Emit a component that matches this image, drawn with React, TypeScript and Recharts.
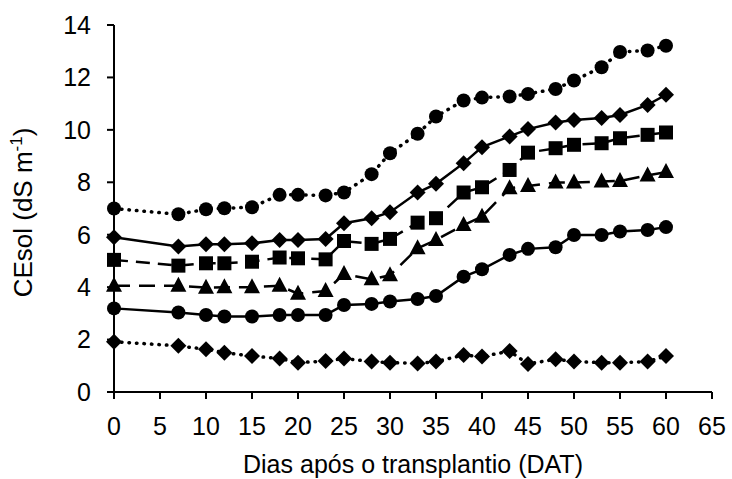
import { LineChart, Line, XAxis, YAxis, Label } from "recharts";

// Days after transplanting at which EC was sampled
const days = [0, 7, 10, 12, 15, 18, 20, 23, 25, 28, 30, 33, 35, 38, 40, 43, 45, 48, 50, 53, 55, 58, 60];

// Soil solution EC (dS m-1), one array per treatment
const circleDotted = [7.0, 6.78, 6.97, 7.01, 7.05, 7.52, 7.52, 7.5, 7.61, 8.31, 9.11, 9.85, 10.51, 11.12, 11.23, 11.27, 11.37, 11.56, 11.88, 12.39, 12.97, 13.03, 13.21];
const diamondSolid = [5.9, 5.55, 5.64, 5.64, 5.67, 5.8, 5.8, 5.84, 6.44, 6.63, 6.86, 7.61, 7.94, 8.73, 9.34, 9.75, 10.03, 10.28, 10.38, 10.45, 10.57, 10.95, 11.34];
const squareDashed = [5.04, 4.82, 4.91, 4.91, 4.97, 5.13, 5.1, 5.06, 5.76, 5.65, 5.84, 6.46, 6.63, 7.61, 7.81, 8.47, 9.13, 9.3, 9.43, 9.49, 9.68, 9.81, 9.9];
const triangleDashed = [4.05, 4.05, 3.98, 4.0, 4.0, 4.05, 3.75, 3.85, 4.5, 4.3, 4.45, 5.48, 5.8, 6.37, 6.69, 7.77, 7.86, 7.99, 7.99, 8.03, 8.05, 8.26, 8.39];
const circleSolid = [3.19, 3.03, 2.94, 2.88, 2.88, 2.94, 2.94, 2.94, 3.32, 3.36, 3.45, 3.55, 3.66, 4.4, 4.68, 5.23, 5.46, 5.52, 5.99, 5.99, 6.12, 6.18, 6.29];
const diamondDotted = [1.92, 1.76, 1.63, 1.5, 1.37, 1.28, 1.12, 1.18, 1.28, 1.16, 1.12, 1.09, 1.16, 1.41, 1.35, 1.56, 1.07, 1.25, 1.16, 1.12, 1.12, 1.16, 1.37];

const xTicks = [0, 5, 10, 15, 20, 25, 30, 35, 40, 45, 50, 55, 60, 65];
const yTicks = [0, 2, 4, 6, 8, 10, 12, 14];

const data = days.map((d, i) => ({
  dat: d,
  s1: circleDotted[i],
  s2: diamondSolid[i],
  s3: squareDashed[i],
  s4: triangleDashed[i],
  s5: circleSolid[i],
  s6: diamondDotted[i],
}));

const FONT = "'Liberation Sans', Arial, sans-serif";

const circleDot = (p: any) => (
  <circle key={`c-${p.dataKey}-${p.index}`} cx={p.cx} cy={p.cy} r={7} fill="#000" />
);

const squareDot = (p: any) => (
  <rect key={`s-${p.index}`} x={p.cx - 7} y={p.cy - 7} width={14} height={14} fill="#000" />
);

const diamondDot = (p: any) => (
  <path
    key={`d-${p.dataKey}-${p.index}`}
    d={`M${p.cx},${p.cy - 8} L${p.cx + 8},${p.cy} L${p.cx},${p.cy + 8} L${p.cx - 8},${p.cy} Z`}
    fill="#000"
  />
);

const triangleDot = (p: any) => (
  <path
    key={`t-${p.index}`}
    d={`M${p.cx},${p.cy - 9} L${p.cx + 8},${p.cy + 6} L${p.cx - 8},${p.cy + 6} Z`}
    fill="#000"
  />
);

const YTitle = (props: any) => {
  const vb = props.viewBox || { x: 0, y: 25, width: 114, height: 367 };
  const x = 32;
  const y = vb.y + vb.height / 2 + 4;
  return (
    <text
      x={x}
      y={y}
      transform={`rotate(-90 ${x} ${y})`}
      textAnchor="middle"
      fontFamily={FONT}
      fontSize={26}
      fill="#000"
    >
      CEsol (dS m
      <tspan dy={-10} fontSize={17}>-1</tspan>
      <tspan dy={10}>)</tspan>
    </text>
  );
};

export default function App() {
  return (
    <div style={{ width: 732, height: 479, background: "#fff" }}>
      <style>{`body{margin:0}`}</style>
      <LineChart width={732} height={479} data={data} margin={{ top: 25, right: 20, left: 0, bottom: 0 }}>
        <XAxis
          dataKey="dat"
          type="number"
          domain={[0, 65]}
          ticks={xTicks}
          interval={0}
          height={87}
          tickSize={7}
          tickMargin={18}
          axisLine={{ stroke: "#000", strokeWidth: 2 }}
          tickLine={{ stroke: "#000", strokeWidth: 2 }}
          tick={{ fill: "#000", fontSize: 25, fontFamily: FONT }}
        >
          <Label
            value="Dias após o transplantio (DAT)"
            position="insideBottom"
            offset={6}
            fill="#000"
            fontSize={25}
            fontFamily={FONT}
          />
        </XAxis>
        <YAxis
          type="number"
          domain={[0, 14]}
          ticks={yTicks}
          interval={0}
          width={114}
          tickSize={7}
          tickMargin={16}
          axisLine={{ stroke: "#000", strokeWidth: 2 }}
          tickLine={{ stroke: "#000", strokeWidth: 2 }}
          tick={{ fill: "#000", fontSize: 25, fontFamily: FONT }}
        >
          <Label content={YTitle} />
        </YAxis>
        <Line dataKey="s1" stroke="#000" strokeWidth={3.5} strokeDasharray="0.5 7" strokeLinecap="round" dot={circleDot} isAnimationActive={false} />
        <Line dataKey="s2" stroke="#000" strokeWidth={2.5} dot={diamondDot} isAnimationActive={false} />
        <Line dataKey="s3" stroke="#000" strokeWidth={2.5} strokeDasharray="14 8" dot={squareDot} isAnimationActive={false} />
        <Line dataKey="s4" stroke="#000" strokeWidth={2.5} strokeDasharray="16 9" dot={triangleDot} isAnimationActive={false} />
        <Line dataKey="s5" stroke="#000" strokeWidth={2.5} dot={circleDot} isAnimationActive={false} />
        <Line dataKey="s6" stroke="#000" strokeWidth={3.5} strokeDasharray="0.5 7" strokeLinecap="round" dot={diamondDot} isAnimationActive={false} />
      </LineChart>
    </div>
  );
}
